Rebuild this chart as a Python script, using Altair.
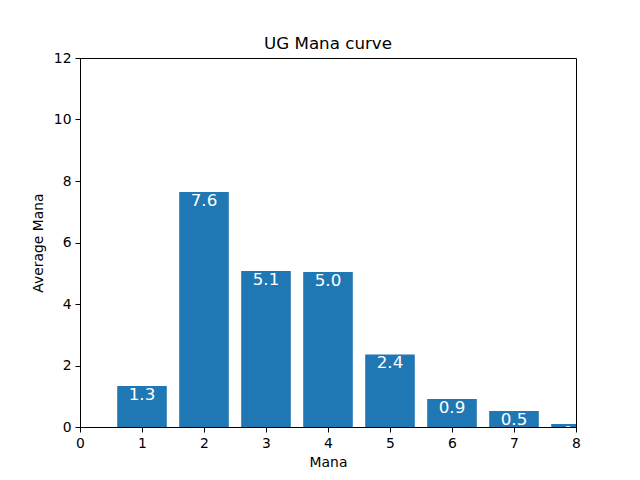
import altair as alt
import pandas as pd

mana = [1, 2, 3, 4, 5, 6, 7, 8]
avg = [1.33, 7.64, 5.07, 5.04, 2.36, 0.91, 0.52, 0.10]
labels = [f"{v:.1f}" for v in avg]

df = pd.DataFrame({"mana": mana, "avg": avg, "label": labels})
df["x0"] = df["mana"] - 0.4
df["x1"] = df["mana"] + 0.4

FONT = "DejaVu Sans"
xs = alt.Scale(domain=[0, 8], nice=False, zero=False)
ys = alt.Scale(domain=[0, 12], nice=False)

xaxis = alt.Axis(values=list(range(0, 9)), title="Mana", grid=False, format="d",
                 labelFontSize=13.9, titleFontSize=13.9, titleFontWeight="normal",
                 tickSize=5, labelPadding=4, titlePadding=6, domainColor="black",
                 tickColor="black", labelColor="black", titleColor="black",
                 labelFont=FONT, titleFont=FONT, labelFlush=False)
yaxis = alt.Axis(values=list(range(0, 13, 2)), title="Average Mana", grid=False, format="d",
                 labelFontSize=13.9, titleFontSize=13.9, titleFontWeight="normal",
                 tickSize=5, labelPadding=4, titlePadding=8, domainColor="black",
                 tickColor="black", labelColor="black", titleColor="black",
                 labelFont=FONT, titleFont=FONT)

bars = alt.Chart(df).mark_rect(color="#1f77b4", clip=True).encode(
    x=alt.X("x0:Q", scale=xs, axis=xaxis),
    x2="x1:Q",
    y=alt.Y("avg:Q", scale=ys, axis=yaxis),
    y2=alt.datum(0),
)

text = alt.Chart(df).mark_text(color="white", fontSize=16.7, font=FONT, baseline="top",
                               align="center", dy=1, clip=True).encode(
    x=alt.X("mana:Q", scale=xs),
    y=alt.Y("avg:Q", scale=ys),
    text="label:N",
)

chart = alt.layer(bars, text).properties(
    width=496, height=369,
    title=alt.TitleParams("UG Mana curve", fontSize=16.7, font=FONT, fontWeight="normal",
                          color="black", offset=-2),
    autosize=alt.AutoSizeParams(type="none"),
    padding={"left": 72, "top": 50, "right": 56, "bottom": 45},
).configure_view(stroke="black", strokeWidth=1)

chart.save("out.html", embed_options={"renderer": "svg", "actions": False})
